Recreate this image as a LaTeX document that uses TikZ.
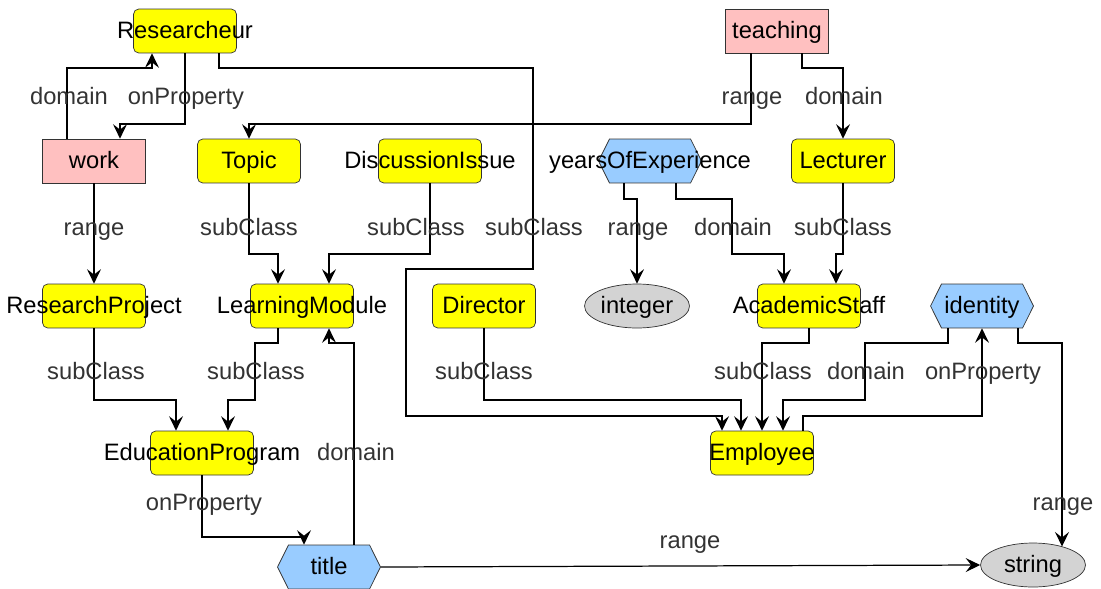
\documentclass[tikz,border=0pt]{standalone}
\usepackage{fontspec}
\setmainfont{Liberation Sans}
\usetikzlibrary{arrows.meta,shapes.geometric,shapes.symbols}

\definecolor{clsyellow}{RGB}{255,255,0}
\definecolor{proppink}{RGB}{255,192,192}
\definecolor{attrblue}{RGB}{153,204,255}
\definecolor{typegray}{RGB}{211,211,211}
\definecolor{edgegray}{RGB}{51,51,51}

\newcommand{\nolap}[1]{\makebox[0pt]{#1}}

\begin{document}
\begin{tikzpicture}[x=0.02cm, y=-0.02cm, font=\fontsize{13.5}{16}\selectfont, text=edgegray,
    txt/.style={text height=9.5pt, text depth=1.5pt, inner sep=0pt},
    cls/.style={txt, draw=edgegray, fill=clsyellow, rounded corners=3pt, minimum width=2.06cm, minimum height=0.88cm, text=black},
    prop/.style={txt, draw=edgegray, fill=proppink, minimum width=2.06cm, minimum height=0.88cm, text=black},
    attr/.style={txt, draw=edgegray, fill=attrblue, signal, signal to=west and east, signal pointer angle=127, minimum width=2.06cm, minimum height=0.88cm, text=black},
    dtype/.style={txt, draw=edgegray, fill=typegray, ellipse, minimum width=2.1cm, minimum height=0.88cm, text=black},
    lbl/.style={txt},
    arr/.style={draw=black, line width=0.7pt, -{Stealth[length=2.9mm, width=2.8mm, inset=1.1mm]}}]
    \useasboundingbox (0,0) rectangle (1101,588);

    % Classes
    \node[cls] (Researcheur) at (185,31) {\nolap{Researcheur}};
    \node[cls] (Topic) at (249,161) {\nolap{Topic}};
    \node[cls] (DiscussionIssue) at (430,161) {\nolap{DiscussionIssue}};
    \node[cls] (Lecturer) at (843,161) {\nolap{Lecturer}};
    \node[cls] (ResearchProject) at (94,306) {\nolap{ResearchProject}};
    \node[cls] (LearningModule) at (302,306) {\nolap{LearningModule}};
    \node[cls] (Director) at (484,306) {\nolap{Director}};
    \node[cls] (AcademicStaff) at (809,306) {\nolap{AcademicStaff}};
    \node[cls] (EducationProgram) at (202,453) {\nolap{EducationProgram}};
    \node[cls] (Employee) at (762,453) {\nolap{Employee}};

    % Object properties
    \node[prop] (teaching) at (777,31) {\nolap{teaching}};
    \node[prop] (work) at (94,161) {\nolap{work}};

    % Datatype properties
    \node[attr] (yearsOfExperience) at (650,161) {\nolap{yearsOfExperience}};
    \node[attr] (identity) at (982,306) {\nolap{identity}};
    \node[attr] (title) at (329,567) {\nolap{title}};

    % Datatypes
    \node[dtype] (integer) at (637,306) {\nolap{integer}};
    \node[dtype] (string) at (1033,565) {\nolap{string}};

    % Edges
    \draw[arr] (work.north -| 67,0) -- (67,68) -- (152,68) -- (Researcheur.south -| 152,0);
    \draw[arr] (Researcheur.south -| 185,0) -- (185,124) -- (120,124) -- (work.north -| 120,0);
    \draw[arr] (Researcheur.south -| 219,0) -- (219,68) -- (533,68) -- (533,269) -- (406,269)
        -- (406,416) -- (722,416) -- (Employee.north -| 722,0);
    \draw[arr] (teaching.south -| 751,0) -- (751,124) -- (249,124) -- (Topic.north);
    \draw[arr] (teaching.south -| 802,0) -- (802,68) -- (843,68) -- (Lecturer.north);
    \draw[arr] (work.south) -- (ResearchProject.north);
    \draw[arr] (Topic.south) -- (249,254) -- (278,254) -- (LearningModule.north -| 278,0);
    \draw[arr] (DiscussionIssue.south) -- (430,254) -- (329,254) -- (LearningModule.north -| 329,0);
    \draw[arr] (yearsOfExperience.south -| 624,0) -- (624,199) -- (637,199) -- (integer.north);
    \draw[arr] (yearsOfExperience.south -| 676,0) -- (676,199) -- (732,199) -- (732,254) -- (784,254)
        -- (AcademicStaff.north -| 784,0);
    \draw[arr] (Lecturer.south) -- (843,254) -- (836,254) -- (AcademicStaff.north -| 836,0);
    \draw[arr] (ResearchProject.south) -- (94,400) -- (176,400) -- (EducationProgram.north -| 176,0);
    \draw[arr] (LearningModule.south -| 278,0) -- (278,343) -- (255,343) -- (255,400) -- (228,400)
        -- (EducationProgram.north -| 228,0);
    \draw[arr] (title.north -| 354,0) -- (354,343) -- (329,343) -- (LearningModule.south -| 329,0);
    \draw[arr] (EducationProgram.south) -- (202,537) -- (304,537) -- (title.north -| 304,0);
    \draw[arr] (title.east) -- (string.west);
    \draw[arr] (identity.south -| 1018,0) -- (1018,343) -- (1062,343) -- (string.32 -| 1062,0);
    \draw[arr] (Director.south) -- (484,400) -- (741,400) -- (Employee.north -| 741,0);
    \draw[arr] (AcademicStaff.south) -- (809,343) -- (762,343) -- (Employee.north);
    \draw[arr] (Employee.north -| 803,0) -- (803,416) -- (982,416) -- (identity.south);
    \draw[arr] (identity.south -| 948,0) -- (948,343) -- (865,343) -- (865,400) -- (783,400)
        -- (Employee.north -| 783,0);

    % Labels
    \node[lbl] (l1) at (69,97) {domain};
    \node[lbl] (l2) at (186,97) {onProperty};
    \node[lbl] (l3) at (752,97) {range};
    \node[lbl] (l4) at (844,97) {domain};
    \node[lbl] (l5) at (94,228) {range};
    \node[lbl] (l6) at (249,228) {subClass};
    \node[lbl] (l7) at (416,228) {subClass};
    \node[lbl] (l8) at (534,228) {subClass};
    \node[lbl] (l9) at (638,228) {range};
    \node[lbl] (l10) at (733,228) {domain};
    \node[lbl] (l11) at (843,228) {subClass};
    \node[lbl] (l12) at (96,372) {subClass};
    \node[lbl] (l13) at (256,372) {subClass};
    \node[lbl] (l14) at (484,372) {subClass};
    \node[lbl] (l15) at (763,372) {subClass};
    \node[lbl] (l16) at (866,372) {domain};
    \node[lbl] (l17) at (983,372) {onProperty};
    \node[lbl] (l18) at (356,453) {domain};
    \node[lbl] (l19) at (204,503) {onProperty};
    \node[lbl] (l20) at (690,541) {range};
    \node[lbl] (l21) at (1063,503) {range};
\end{tikzpicture}
\end{document}
